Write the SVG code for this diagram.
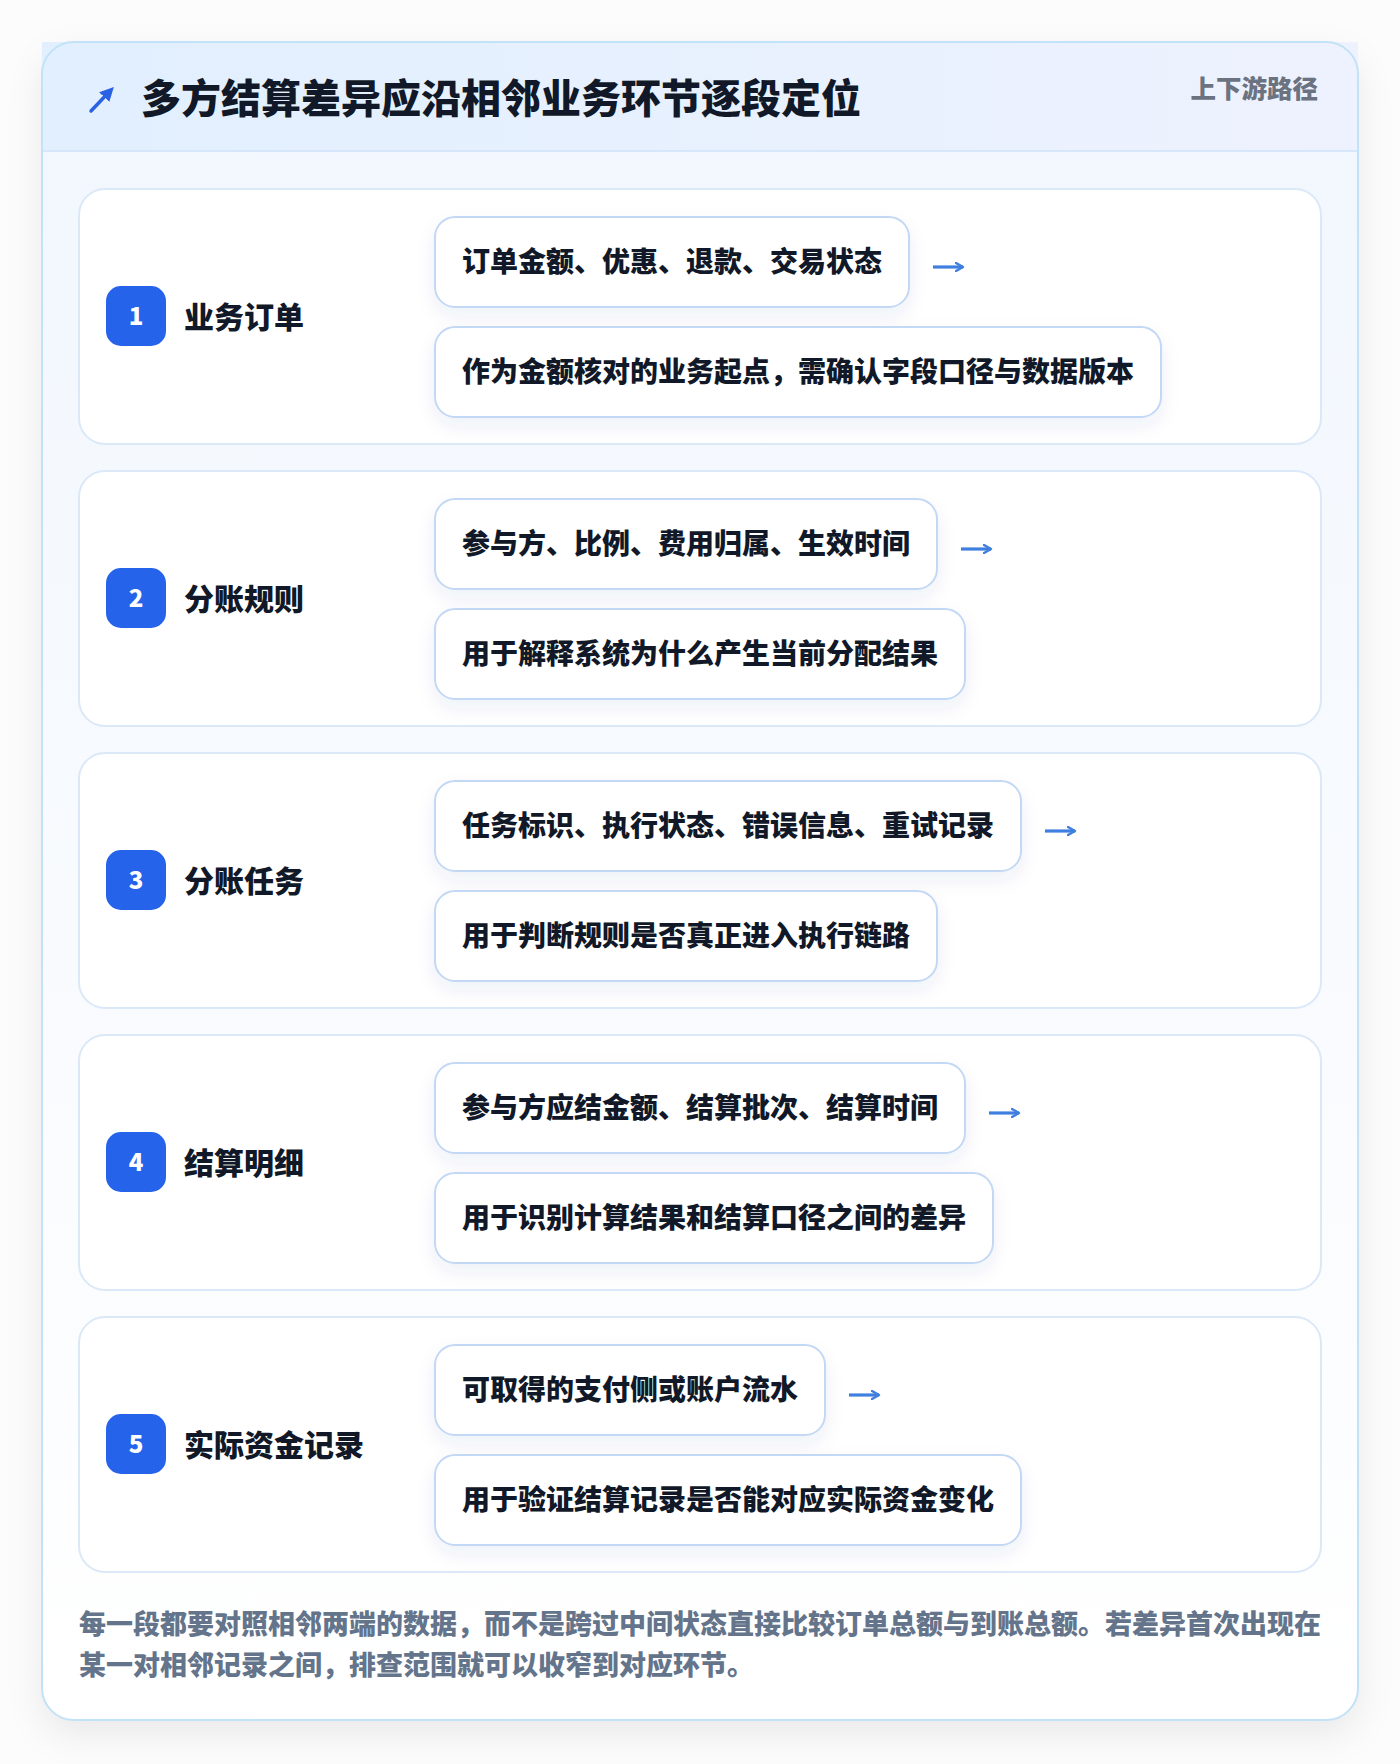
<svg xmlns="http://www.w3.org/2000/svg" width="1400" height="1764" viewBox="0 0 1400 1764">
<defs>
<linearGradient id="headGrad" x1="0" y1="0" x2="1" y2="0">
<stop offset="0" stop-color="#e1effe"/>
<stop offset="1" stop-color="#eef2fe"/>
</linearGradient>
<linearGradient id="bodyGrad" x1="0" y1="0" x2="0" y2="1">
<stop offset="0" stop-color="#f1f7fe"/>
<stop offset="0.6" stop-color="#f9fbfe"/>
<stop offset="1" stop-color="#ffffff"/>
</linearGradient>
<filter id="outerShadow" x="-10%" y="-10%" width="120%" height="120%">
<feDropShadow dx="0" dy="14" stdDeviation="18" flood-color="#0f172a" flood-opacity="0.08"/>
</filter>
<filter id="pillShadow" x="-20%" y="-40%" width="140%" height="190%">
<feDropShadow dx="0" dy="8" stdDeviation="9" flood-color="#1e3a8a" flood-opacity="0.07"/>
</filter>
<marker id="ah" viewBox="0 0 10 10" refX="8" refY="5" markerWidth="10" markerHeight="10" markerUnits="userSpaceOnUse" orient="auto">
<path d="M1,1 L8,5 L1,9" fill="none" stroke="#3f7fe0" stroke-width="2.4" stroke-linecap="round" stroke-linejoin="round"/>
</marker>
<marker id="ahTitle" viewBox="0 0 10 10" refX="6" refY="5" markerWidth="14" markerHeight="14" markerUnits="userSpaceOnUse" orient="auto">
<path d="M0,0 L10,5 L0,10 Z" fill="#2b61e3"/>
</marker>
</defs>
<style>
.t{font-family:"Noto Sans CJK SC","Noto Sans",sans-serif;font-weight:900}
.title{font-size:40px;fill:#111827}
.tag{font-size:25.5px;fill:#6b7280}
.step{fill:#ffffff;stroke:#dbe8f8;stroke-width:2}
.badge{fill:#2563eb}
.num{font-size:24px;fill:#ffffff;text-anchor:middle}
.label{font-size:30px;fill:#111827}
.pill{fill:#ffffff;stroke:#c3d8f4;stroke-width:2;filter:url(#pillShadow)}
.ptxt{font-size:28px;fill:#111827}
.foot{font-size:27px;fill:#64748b}
.arr{stroke:#3f7fe0;stroke-width:3.2;fill:none;marker-end:url(#ah)}
</style>
<rect x="0" y="0" width="1400" height="1764" fill="#fcfcfd"/>
<g id="frame">
<rect x="42" y="42" width="1316" height="1678" rx="32" fill="url(#bodyGrad)" filter="url(#outerShadow)"/>
<rect x="42" y="42" width="1316" height="109" fill="url(#headGrad)"/>
<line x1="42" y1="151" x2="1358" y2="151" stroke="#d7e7fb" stroke-width="2"/>
<rect x="42" y="42" width="1316" height="1678" rx="32" fill="none" stroke="#c2e2f7" stroke-width="2"/>
</g>
<g id="header">
<line x1="91" y1="111" x2="110" y2="91" stroke="#2b61e3" stroke-width="3.5" stroke-linecap="round" marker-end="url(#ahTitle)"/>
<text class="t title" x="141" y="113">多方结算差异应沿相邻业务环节逐段定位</text>
<text class="t tag" x="1318" y="98" text-anchor="end">上下游路径</text>
</g>
<g id="step1">
<rect class="step" x="79" y="189" width="1242" height="255" rx="26"/>
<rect class="badge" x="106" y="286" width="60" height="60" rx="15"/>
<text class="t num" x="136" y="325">1</text>
<text class="t label" x="184" y="328">业务订单</text>
<rect class="pill" x="435" y="217" width="474" height="90" rx="20"/>
<text class="t ptxt" x="462" y="272">订单金额、优惠、退款、交易状态</text>
<rect class="pill" x="435" y="327" width="726" height="90" rx="20"/>
<text class="t ptxt" x="462" y="382">作为金额核对的业务起点，需确认字段口径与数据版本</text>
</g>
<g id="step2">
<rect class="step" x="79" y="471" width="1242" height="255" rx="26"/>
<rect class="badge" x="106" y="568" width="60" height="60" rx="15"/>
<text class="t num" x="136" y="607">2</text>
<text class="t label" x="184" y="610">分账规则</text>
<rect class="pill" x="435" y="499" width="502" height="90" rx="20"/>
<text class="t ptxt" x="462" y="554">参与方、比例、费用归属、生效时间</text>
<rect class="pill" x="435" y="609" width="530" height="90" rx="20"/>
<text class="t ptxt" x="462" y="664">用于解释系统为什么产生当前分配结果</text>
</g>
<g id="step3">
<rect class="step" x="79" y="753" width="1242" height="255" rx="26"/>
<rect class="badge" x="106" y="850" width="60" height="60" rx="15"/>
<text class="t num" x="136" y="889">3</text>
<text class="t label" x="184" y="892">分账任务</text>
<rect class="pill" x="435" y="781" width="586" height="90" rx="20"/>
<text class="t ptxt" x="462" y="836">任务标识、执行状态、错误信息、重试记录</text>
<rect class="pill" x="435" y="891" width="502" height="90" rx="20"/>
<text class="t ptxt" x="462" y="946">用于判断规则是否真正进入执行链路</text>
</g>
<g id="step4">
<rect class="step" x="79" y="1035" width="1242" height="255" rx="26"/>
<rect class="badge" x="106" y="1132" width="60" height="60" rx="15"/>
<text class="t num" x="136" y="1171">4</text>
<text class="t label" x="184" y="1174">结算明细</text>
<rect class="pill" x="435" y="1063" width="530" height="90" rx="20"/>
<text class="t ptxt" x="462" y="1118">参与方应结金额、结算批次、结算时间</text>
<rect class="pill" x="435" y="1173" width="558" height="90" rx="20"/>
<text class="t ptxt" x="462" y="1228">用于识别计算结果和结算口径之间的差异</text>
</g>
<g id="step5">
<rect class="step" x="79" y="1317" width="1242" height="255" rx="26"/>
<rect class="badge" x="106" y="1414" width="60" height="60" rx="15"/>
<text class="t num" x="136" y="1453">5</text>
<text class="t label" x="184" y="1456">实际资金记录</text>
<rect class="pill" x="435" y="1345" width="390" height="90" rx="20"/>
<text class="t ptxt" x="462" y="1400">可取得的支付侧或账户流水</text>
<rect class="pill" x="435" y="1455" width="586" height="90" rx="20"/>
<text class="t ptxt" x="462" y="1510">用于验证结算记录是否能对应实际资金变化</text>
</g>
<g id="connectors">
<line class="arr" x1="933" y1="267" x2="963" y2="267"/>
<line class="arr" x1="961" y1="549" x2="991" y2="549"/>
<line class="arr" x1="1045" y1="831" x2="1075" y2="831"/>
<line class="arr" x1="989" y1="1113" x2="1019" y2="1113"/>
<line class="arr" x1="849" y1="1395" x2="879" y2="1395"/>
</g>
<g id="footer">
<text class="t foot" x="79" y="1634">每一段都要对照相邻两端的数据，而不是跨过中间状态直接比较订单总额与到账总额。若差异首次出现在</text>
<text class="t foot" x="79" y="1675">某一对相邻记录之间，排查范围就可以收窄到对应环节。</text>
</g>
</svg>
